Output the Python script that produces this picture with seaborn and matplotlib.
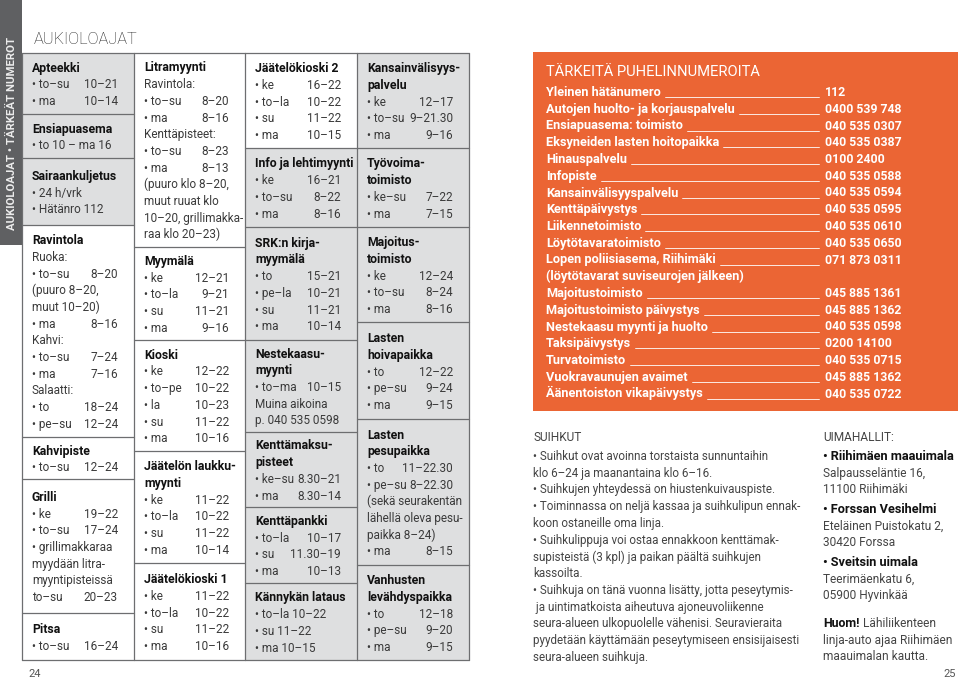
import matplotlib
matplotlib.use("Agg")
import matplotlib.pyplot as plt
import seaborn as sns
from matplotlib.patches import Rectangle

sns.set_theme(style="white")
plt.rcParams['font.family'] = ['Roboto', 'DejaVu Sans']

# ---- data -------------------------------------------------------------
col1_cells = [
    (["Apteekki"], [("• to–su", "10–21"), ("• ma", "10–14")]),
    (["Ensiapuasema"], [("• to 10 – ma 16", "")]),
    (["Sairaankuljetus"], [("• 24 h/vrk", ""), ("• Hätänro 112", "")]),
    (["Ravintola"], [("Ruoka:", ""), ("• to–su", "8–20"), ("(puuro 8–20,", ""),
                     ("muut 10–20)", ""), ("• ma", "8–16"), ("Kahvi:", ""),
                     ("• to–su", "7–24"), ("• ma", "7–16"), ("Salaatti:", ""),
                     ("• to", "18–24"), ("• pe–su", "12–24")]),
    (["Kahvipiste"], [("• to–su", "12–24")]),
    (["Grilli"], [("• ke", "19–22"), ("• to–su", "17–24"), ("• grillimakkaraa", ""),
                  ("myydään litra-", ""), ("myyntipisteissä", ""), ("to–su", "20–23")]),
    (["Pitsa"], [("• to–su", "16–24")]),
]
col2_cells = [
    (["Litramyynti"], [("Ravintola:", ""), ("• to–su", "8–20"), ("• ma", "8–16"),
                       ("Kenttäpisteet:", ""), ("• to–su", "8–23"), ("• ma", "8–13"),
                       ("(puuro klo 8–20,", ""), ("muut ruuat klo", ""),
                       ("10–20, grillimakka-", ""), ("raa klo 20–23)", "")]),
    (["Myymälä"], [("• ke", "12–21"), ("• to–la", "9–21"), ("• su", "11–21"), ("• ma", "9–16")]),
    (["Kioski"], [("• ke", "12–22"), ("• to–pe", "10–22"), ("• la", "10–23"),
                  ("• su", "11–22"), ("• ma", "10–16")]),
    (["Jäätelön laukku-", "myynti"], [("• ke", "11–22"), ("• to–la", "10–22"),
                                      ("• su", "11–22"), ("• ma", "10–14")]),
    (["Jäätelökioski 1"], [("• ke", "11–22"), ("• to–la", "10–22"),
                           ("• su", "11–22"), ("• ma", "10–16")]),
]
col3_cells = [
    (["Jäätelökioski 2"], [("• ke", "16–22"), ("• to–la", "10–22"),
                           ("• su", "11–22"), ("• ma", "10–15")]),
    (["Info ja lehtimyynti"], [("• ke", "16–21"), ("• to–su", "8–22"), ("• ma", "8–16")]),
    (["SRK:n kirja-", "myymälä"], [("• to", "15–21"), ("• pe–la", "10–21"),
                                   ("• su", "11–21"), ("• ma", "10–14")]),
    (["Nestekaasu-", "myynti"], [("• to–ma", "10–15"), ("Muina aikoina", ""),
                                 ("p. 040 535 0598", "")]),
    (["Kenttämaksu-", "pisteet"], [("• ke–su", "8.30–21"), ("• ma", "8.30–14")]),
    (["Kenttäpankki"], [("• to–la", "10–17"), ("• su", "11.30–19"), ("• ma", "10–13")]),
    (["Kännykän lataus"], [("• to–la 10–22", ""), ("• su 11–22", ""), ("• ma 10–15", "")]),
]
col4_cells = [
    (["Kansainvälisyys-", "palvelu"], [("• ke", "12–17"), ("• to–su", "9–21.30"), ("• ma", "9–16")]),
    (["Työvoima-", "toimisto"], [("• ke–su", "7–22"), ("• ma", "7–15")]),
    (["Majoitus-", "toimisto"], [("• ke", "12–24"), ("• to–su", "8–24"), ("• ma", "8–16")]),
    (["Lasten", "hoivapaikka"], [("• to", "12–22"), ("• pe–su", "9–24"), ("• ma", "9–15")]),
    (["Lasten", "pesupaikka"], [("• to", "11–22.30"), ("• pe–su", "8–22.30"),
                                ("(sekä seurakentän", ""), ("lähellä oleva pesu-", ""),
                                ("paikka 8–24)", ""), ("• ma", "8–15")]),
    (["Vanhusten", "levähdyspaikka"], [("• to", "12–18"), ("• pe–su", "9–20"), ("• ma", "9–15")]),
]

phone_names = ["Yleinen hätänumero", "Autojen huolto- ja korjauspalvelu",
               "Ensiapuasema: toimisto", "Eksyneiden lasten hoitopaikka",
               "Hinauspalvelu", "Infopiste", "Kansainvälisyyspalvelu",
               "Kenttäpäivystys", "Liikennetoimisto", "Löytötavaratoimisto",
               "Lopen poliisiasema, Riihimäki", "(löytötavarat suviseurojen jälkeen)",
               "Majoitustoimisto", "Majoitustoimisto päivystys",
               "Nestekaasu myynti ja huolto", "Taksipäivystys", "Turvatoimisto",
               "Vuokravaunujen avaimet", "Äänentoiston vikapäivystys"]
phone_numbers = ["112", "0400 539 748", "040 535 0307", "040 535 0387", "0100 2400",
                 "040 535 0588", "040 535 0594", "040 535 0595", "040 535 0610",
                 "040 535 0650", "071 873 0311", "", "045 885 1361", "045 885 1362",
                 "040 535 0598", "0200 14100", "040 535 0715", "045 885 1362",
                 "040 535 0722"]

suihkut_lines = ["• Suihkut ovat avoinna torstaista sunnuntaihin",
                 "klo 6–24 ja maanantaina klo 6–16.",
                 "• Suihkujen yhteydessä on hiustenkuivauspiste.",
                 "• Toiminnassa on neljä kassaa ja suihkulipun ennak-",
                 "koon ostaneille oma linja.",
                 "• Suihkulippuja voi ostaa ennakkoon kenttämak-",
                 "supisteistä (3 kpl) ja paikan päältä suihkujen",
                 "kassoilta.",
                 "• Suihkuja on tänä vuonna lisätty, jotta peseytymis-",
                 " ja uintimatkoista aiheutuva ajoneuvoliikenne",
                 "seura-alueen ulkopuolelle vähenisi. Seuravieraita",
                 "pyydetään käyttämään peseytymiseen ensisijaisesti",
                 "seura-alueen suihkuja."]

halls = [("• Riihimäen maauimala", ["Salpausseläntie 16,", "11100 Riihimäki"]),
         ("• Forssan Vesihelmi", ["Eteläinen Puistokatu 2,", "30420 Forssa"]),
         ("• Sveitsin uimala", ["Teerimäenkatu 6,", "05900 Hyvinkää"])]
huom_lines = ["Lähiliikenteen", "linja-auto ajaa Riihimäen", "maauimalan kautta."]

# ---- layout -----------------------------------------------------------
columns = [col1_cells, col2_cells, col3_cells, col4_cells]
col_x = [22, 134, 245, 357, 469]
col_edges = [[53, 114, 158, 225, 437, 479, 613, 660],
             [53, 247, 340, 451, 563, 660],
             [53, 148, 227, 340, 432, 507, 583, 660],
             [53, 148, 227, 322, 419, 565, 660]]
col_shade = [[1, 1, 1, 0, 0, 0, 0], [0, 0, 0, 0, 0],
             [0, 1, 1, 1, 1, 1, 1], [1, 1, 1, 1, 1, 1]]
LS = 16.7
FS = 8.5
FH = 8.8
GRAY = "#dedfe0"
LINE = "#6d6e70"
BODY = "#3a3a3a"
BODY2 = "#444444"
ORANGE = "#eb6534"
DARK = "#5f6062"

fig = plt.figure(figsize=(9.6, 6.81), dpi=100)
ax = fig.add_axes([0, 0, 1, 1])
ax.set_xlim(0, 960)
ax.set_ylim(681, 0)
ax.axis("off")

# side tab
ax.add_patch(Rectangle((0, 0), 22, 245, fc=DARK, ec="none"))
ax.text(11.5, 133, "AUKIOLOAJAT • TÄRKEÄT NUMEROT", rotation=90, color="#ececec",
        fontsize=8.2, fontweight="bold", ha="center", va="center")
ax.text(34, 44.5, "AUKIOLOAJAT", fontsize=11.8, fontweight="light", color="#222222",
        ha="left", va="baseline")

# table
for ci, cells in enumerate(columns):
    x0, x1 = col_x[ci], col_x[ci + 1]
    edges = col_edges[ci]
    for k, (head, rows) in enumerate(cells):
        top, bot = edges[k], edges[k + 1]
        if col_shade[ci][k]:
            ax.add_patch(Rectangle((x0, top), x1 - x0, bot - top, fc=GRAY, ec="none"))
        n = len(head) + len(rows)
        y = (top + bot) / 2 + 1 - (n - 1) * LS / 2
        for h in head:
            ax.text(x0 + 10, y + 4, h, fontsize=FH, fontweight="bold", color="#111111",
                    ha="left", va="baseline")
            y += LS
        for lab, val in rows:
            ax.text(x0 + 10, y + 4, lab, fontsize=FS, color=BODY, ha="left", va="baseline")
            if val:
                ax.text(x1 - 16, y + 4, val, fontsize=FS, color=BODY, ha="right", va="baseline")
            y += LS
        if k > 0:
            ax.plot([x0, x1], [top, top], color=LINE, lw=0.9)
    ax.plot([x0, x1], [edges[0], edges[0]], color=LINE, lw=0.9)
    ax.plot([x0, x1], [edges[-1], edges[-1]], color=LINE, lw=0.9)
for x in col_x:
    ax.plot([x, x], [53, 660], color=LINE, lw=0.9)

ax.text(28, 677, "24", fontsize=8, color="#555555", ha="left", va="baseline")
ax.text(956, 677, "25", fontsize=8, color="#555555", ha="right", va="baseline")

# phone numbers box
ax.add_patch(Rectangle((533, 52), 425, 359, fc=ORANGE, ec="none"))
ax.text(546, 75.5, "TÄRKEITÄ PUHELINNUMEROITA", fontsize=10.6, fontweight="normal",
        color="white", ha="left", va="baseline")
fig.canvas.draw()
renderer = fig.canvas.get_renderer()
inv = ax.transData.inverted()
for i, (name, num) in enumerate(zip(phone_names, phone_numbers)):
    yb = 92 + i * 16.75 + 4
    t = ax.text(546, yb, name, fontsize=9.2, fontweight="bold", color="white",
                ha="left", va="baseline")
    if num:
        bb = t.get_window_extent(renderer)
        xe = inv.transform((bb.x1, bb.y0))[0]
        ax.plot([xe + 4, 819], [yb + 1, yb + 1], color="white", lw=0.6)
        ax.text(825, yb, num, fontsize=8.8, fontweight="bold", color="white",
                ha="left", va="baseline")

# SUIHKUT
ax.text(533, 441, "SUIHKUT", fontsize=8.6, color=BODY2, ha="left", va="baseline")
for i, line in enumerate(suihkut_lines):
    ax.text(533, 456 + i * 16.75 + 4, line, fontsize=8.35, color=BODY2,
            ha="left", va="baseline")

# UIMAHALLIT
ax.text(823, 441, "UIMAHALLIT:", fontsize=8.6, color=BODY2, ha="left", va="baseline")
y = 456
for name, addr in halls:
    ax.text(823, y + 4, name, fontsize=9.2, fontweight="bold", color="#111111",
            ha="left", va="baseline")
    for j, a in enumerate(addr):
        ax.text(823, y + (j + 1) * 16.7 + 4, a, fontsize=8.6, color=BODY2,
                ha="left", va="baseline")
    y += 53
ht = ax.text(823, 627, "Huom!", fontsize=8.9, fontweight="bold", color="#111111",
             ha="left", va="baseline")
bb = ht.get_window_extent(renderer)
xe = inv.transform((bb.x1, bb.y0))[0]
ax.text(xe + 3, 627, huom_lines[0], fontsize=8.6, color=BODY2, ha="left", va="baseline")
for j, line in enumerate(huom_lines[1:]):
    ax.text(823, 627 + (j + 1) * 16.7, line, fontsize=8.6, color=BODY2,
            ha="left", va="baseline")

fig.savefig("out.png", dpi=100, facecolor="white")
